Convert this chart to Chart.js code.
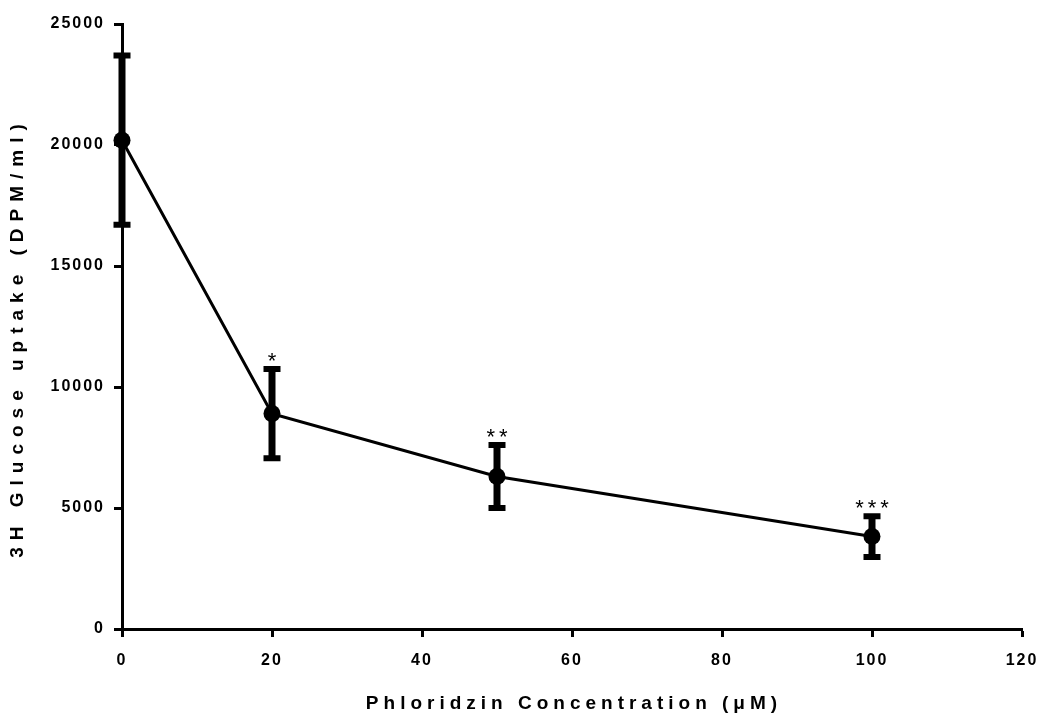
<!DOCTYPE html>
<html>
<head>
<meta charset="utf-8">
<script src="https://cdn.jsdelivr.net/npm/chart.js@4/dist/chart.umd.min.js"></script>
<style>
html,body{margin:0;background:#fff}
#wrap{width:1040px;height:715px}
</style>
</head>
<body>
<div id="wrap"><canvas id="uptakeChart"></canvas></div>
<script>

// data

const concentrations = [0,20,50,100]
const uptake = [20200,8900,6300,3820]
const sem = [3500,1840,1300,840]
const stars = ['','*','**','***']

const xTicks = [0,20,40,60,80,100,120]
const yTicks = [0,5000,10000,15000,20000,25000]

const xTitle = 'Phloridzin Concentration (\u03bcM)'
const yTitle = '3H Glucose uptake (DPM/ml)'

const FONT = '"Liberation Sans", Arial, sans-serif'


// spaced-out bold text like the original

const spacing = {
id:'spacing',
beforeDraw(chart){
chart.ctx.letterSpacing = '2px'
}
}


// error bars (under the points)

const errorBars = {
id:'errorBars',
beforeDatasetsDraw(chart){

const {ctx, scales:{x,y}} = chart
ctx.save()
ctx.strokeStyle = '#000'
ctx.lineCap = 'butt'

concentrations.forEach((c,i)=>{
const px = x.getPixelForValue(c)
const top = y.getPixelForValue(uptake[i] + sem[i])
const bot = y.getPixelForValue(uptake[i] - sem[i])

ctx.lineWidth = 7
ctx.beginPath()
ctx.moveTo(px, top)
ctx.lineTo(px, bot)
ctx.stroke()

ctx.lineWidth = 6
ctx.beginPath()
ctx.moveTo(px-8.5, top); ctx.lineTo(px+8.5, top)
ctx.moveTo(px-8.5, bot); ctx.lineTo(px+8.5, bot)
ctx.stroke()
})

ctx.restore()
}
}


// significance stars + axis titles

const labels = {
id:'labels',
afterDraw(chart){

const {ctx, chartArea, scales:{x,y}} = chart
ctx.save()
ctx.fillStyle = '#000'

// stars
ctx.font = '22px ' + FONT
ctx.letterSpacing = '4px'
ctx.textAlign = 'center'
ctx.textBaseline = 'alphabetic'
concentrations.forEach((c,i)=>{
if(!stars[i]) return
const px = x.getPixelForValue(c) + 2
const top = y.getPixelForValue(uptake[i] + sem[i])
ctx.fillText(stars[i], px, top - 1)
})

// axis titles
ctx.font = 'bold 19px ' + FONT
ctx.letterSpacing = '5px'
ctx.textBaseline = 'middle'
ctx.fillText(xTitle, (chartArea.left + chartArea.right)/2 + 2, 704)

ctx.translate(18, (chartArea.top + chartArea.bottom)/2 + 14)
ctx.rotate(-Math.PI/2)
ctx.letterSpacing = '7px'
ctx.fillText(yTitle, 3, 0)

ctx.restore()
}
}


const uptakeChart = new Chart(

document.getElementById('uptakeChart'),

{
type:'line',

data:{
datasets:[{
data:concentrations.map((c,i)=>({x:c, y:uptake[i]})),
borderColor:'#000',
borderWidth:3,
backgroundColor:'#000',
pointRadius:8.5,
pointHoverRadius:8.5,
pointBorderWidth:0,
tension:0,
clip:false
}]
},

options:{
responsive:true,
maintainAspectRatio:false,
animation:false,
events:[],
layout:{padding:{top:24,right:18,left:0,bottom:0}},
plugins:{legend:{display:false}, tooltip:{enabled:false}},
scales:{
x:{
type:'linear',
min:0,
max:120,
afterBuildTicks:s=>{ s.ticks = xTicks.map(v=>({value:v})) },
afterFit:s=>{ s.height = 86; s.paddingLeft = 0; s.paddingRight = 0 },
grid:{drawOnChartArea:false, drawTicks:true, tickLength:8, tickWidth:3, tickColor:'#000'},
border:{display:true, color:'#000', width:3},
ticks:{color:'#000', padding:14, maxRotation:0, font:{family:FONT, size:16, weight:'bold'}}
},
y:{
min:0,
max:25000,
afterBuildTicks:s=>{ s.ticks = yTicks.map(v=>({value:v})) },
afterFit:s=>{ s.width = 122; s.paddingTop = 0; s.paddingBottom = 0 },
grid:{drawOnChartArea:false, drawTicks:true, tickLength:8, tickWidth:3, tickColor:'#000'},
border:{display:true, color:'#000', width:3},
ticks:{color:'#000', padding:9, font:{family:FONT, size:16, weight:'bold'}, callback:v=>String(v)}
}
}
},

plugins:[spacing, errorBars, labels]

}
)

</script>
</body>
</html>
